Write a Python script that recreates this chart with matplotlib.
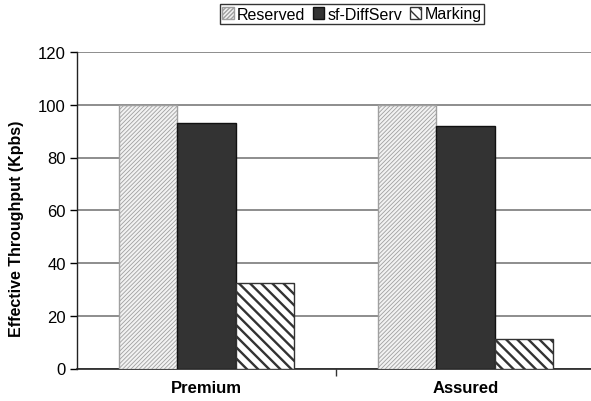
import numpy as np
import matplotlib.pyplot as plt

plt.rcParams['font.family'] = ['Liberation Sans', 'DejaVu Sans']

categories = ['Premium', 'Assured']
series = ['Reserved', 'sf-DiffServ', 'Marking']
reserved = [100, 100]
sf_diffserv = [93, 92]
marking = [32.5, 11]

fig = plt.figure(figsize=(5.91, 4.02), dpi=100)
ax = fig.add_axes([77 / 591, 1 - 369.5 / 402, 1 - 77 / 591, (369.5 - 53) / 402])

x = np.arange(len(categories))
w = 0.224
styles = [
    dict(color='#f2f2f2', edgecolor='#a0a0a0', hatch='////////', hlw=0.6),
    dict(color='#333333', edgecolor='#111111', hatch=None, hlw=1.0),
    dict(color='white', edgecolor='#333333', hatch='\\\\\\', hlw=1.7),
]
for i, (vals, st) in enumerate(zip([reserved, sf_diffserv, marking], styles)):
    bars = ax.bar(x + (i - 1) * w, vals, w, color=st['color'], edgecolor=st['edgecolor'],
                  hatch=st['hatch'], linewidth=1.0, label=series[i], zorder=3)
    for b in bars:
        if hasattr(b, 'set_hatch_linewidth'):
            b.set_hatch_linewidth(st['hlw'])

ax.set_xlim(-0.5, -0.5 + 514 / 259)
ax.set_ylim(0, 120)
ax.set_yticks(range(0, 121, 20))
ax.yaxis.grid(True, color='#7a7a7a', linewidth=1.2, zorder=0)
ax.set_axisbelow(True)

ax.set_xticks([0.5])
ax.set_xticklabels([''])
ax.tick_params(axis='x', length=5, width=1, direction='out', color='#333333')
ax.tick_params(axis='y', length=5, width=1, direction='out', labelsize=12, pad=3)
for c, name in zip(x, categories):
    ax.text(c, -4.2, name, ha='center', va='top', fontsize=12, fontweight='bold',
            transform=ax.transData)

for s in ['top', 'right']:
    ax.spines[s].set_visible(False)
ax.spines['left'].set_color('#222222')
ax.spines['bottom'].set_color('#222222')
ax.spines['left'].set_linewidth(1.0)
ax.spines['bottom'].set_linewidth(1.2)

ax.set_ylabel('Effective Throughput (Kpbs)', fontsize=11.5, fontweight='bold')
ax.yaxis.set_label_coords(-0.103, 0.445)

leg = fig.legend(loc='center', bbox_to_anchor=(352 / 591, 1 - 15 / 402), ncol=3,
                 fontsize=11.5, frameon=True, fancybox=False, edgecolor='black',
                 handlelength=0.7, handleheight=0.7, handletextpad=0.2,
                 columnspacing=0.5, borderpad=0.15, borderaxespad=0)
leg.get_frame().set_linewidth(1.0)

fig.savefig('out.png', dpi=100)
